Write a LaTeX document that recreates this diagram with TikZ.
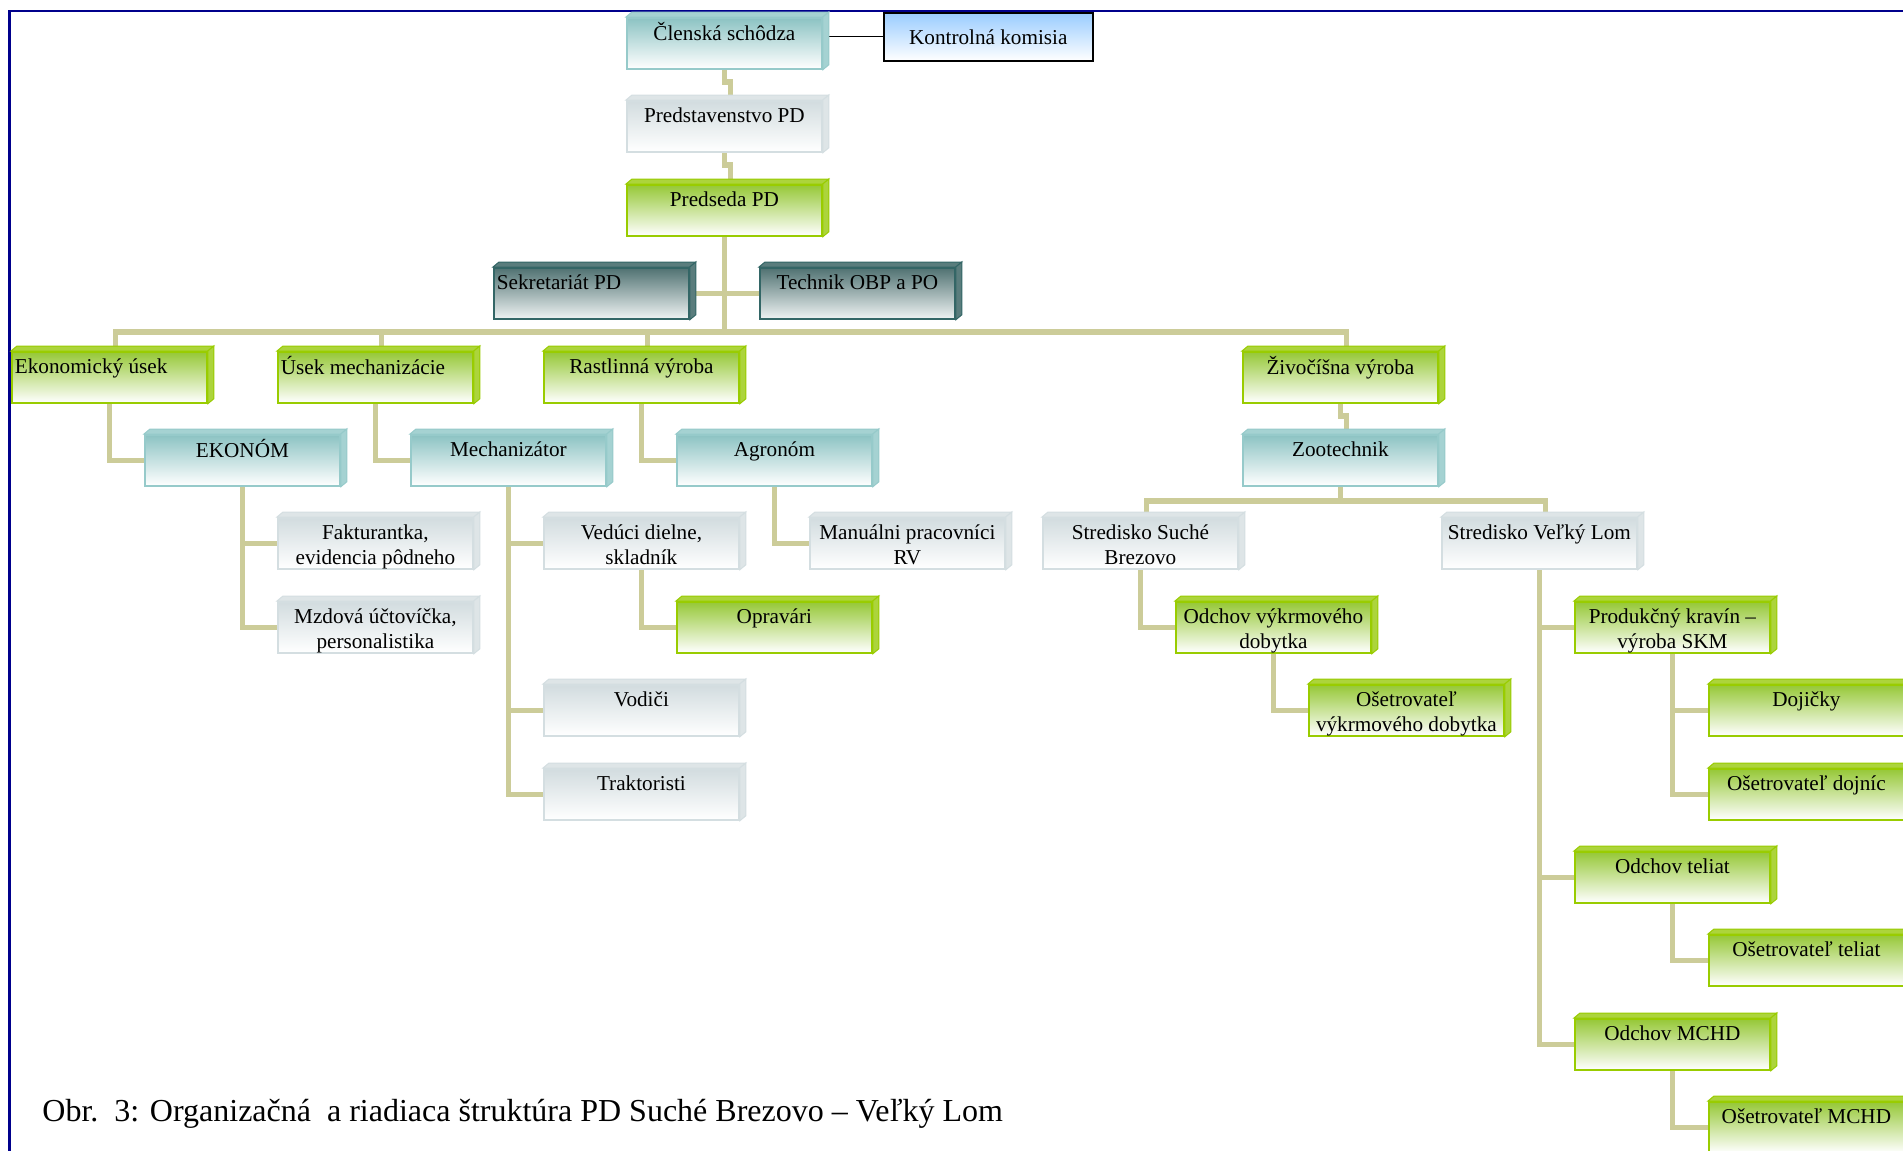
\documentclass[tikz,border=0pt]{standalone}
\usepackage{fontspec}
\setmainfont{Liberation Serif}
\usetikzlibrary{backgrounds}
\definecolor{greenB}{RGB}{153,204,0}
\definecolor{greenT}{RGB}{150,200,55}
\definecolor{greenF}{RGB}{172,212,60}
\definecolor{tealB}{RGB}{150,202,202}
\definecolor{tealT}{RGB}{140,195,195}
\definecolor{tealF}{RGB}{165,210,210}
\definecolor{greyB}{RGB}{212,222,225}
\definecolor{greyT}{RGB}{210,220,223}
\definecolor{greyF}{RGB}{222,229,231}
\definecolor{slateB}{RGB}{51,102,102}
\definecolor{slateT}{RGB}{80,114,114}
\definecolor{slateF}{RGB}{90,125,125}
\definecolor{blueT}{RGB}{153,204,255}
\definecolor{linkC}{RGB}{204,204,153}
\definecolor{frameC}{RGB}{0,0,140}

\newcommand{\boxfont}{\fontsize{10.6}{12.5}\selectfont}
\newcommand{\cell}[1]{\vbox to 25.5pt{\hsize=97.5pt\centering\vskip 2.25pt\leavevmode\strut#1\strut\par\vss}}
\newcommand{\cellL}[1]{\vbox to 25.5pt{\hsize=97.5pt\raggedright\leftskip=1.5pt\vskip 2.25pt\leavevmode\strut#1\strut\par\vss}}

\tikzset{
  unit/.style={rectangle, inner sep=0pt, minimum width=97.5pt, minimum height=25.5pt,
    anchor=north west, line width=0.9pt, font=\boxfont},
  greenbox/.style={unit, draw=greenB, top color=greenT, bottom color=white},
  tealbox/.style={unit, draw=tealB, top color=tealT, bottom color=white},
  greybox/.style={unit, draw=greyB, top color=greyT, bottom color=white},
  slatebox/.style={unit, draw=slateB, top color=slateT, bottom color=white!92!slateB},
  kkbox/.style={rectangle, anchor=north west, minimum width=104.5pt, minimum height=24pt,
    draw=black, line width=0.8pt, top color=blueT, bottom color=white, font=\boxfont},
  link/.style={draw=linkC, line width=2.8pt},
}

\begin{document}
\begin{tikzpicture}[x=0.5pt, y=-0.5pt]
  \useasboundingbox (0,0) rectangle (1903,1151);

  % frame
  \draw[frameC, line width=1.2pt] (9.5,1160) |- (1910,11);

  % top of the chart
  \node[tealbox]  (cs)   at (626,17)  {\cell{Členská schôdza}};
  \node[kkbox]    (kk)   at (883,12)  {Kontrolná komisia};
  \node[greybox]  (ps)   at (626,100) {\cell{Predstavenstvo PD}};
  \node[greenbox] (pd)   at (626,184) {\cell{Predseda PD}};
  \node[slatebox] (sek)  at (493,267) {\cellL{Sekretariát PD}};
  \node[slatebox] (tech) at (759,267) {\cell{Technik OBP a PO}};

  % sections
  \node[greenbox] (eu) at (11,351)   {\cellL{Ekonomický úsek}};
  \node[greenbox] (um) at (277,351)  {\cellL{Úsek mechanizácie}};
  \node[greenbox] (rv) at (543,351)  {\cell{Rastlinná výroba}};
  \node[greenbox] (zv) at (1242,351) {\cell{Živočíšna výroba}};

  \node[tealbox] (ekn) at (144,434)  {\cell{EKONÓM}};
  \node[tealbox] (mch) at (410,434)  {\cell{Mechanizátor}};
  \node[tealbox] (agr) at (676,434)  {\cell{Agronóm}};
  \node[tealbox] (zt)  at (1242,434) {\cell{Zootechnik}};

  \node[greybox] (fak) at (277,517)  {\cell{Fakturantka,\\evidencia pôdneho}};
  \node[greybox] (mzd) at (277,601)  {\cell{Mzdová účtovíčka,\\personalistika}};
  \node[greybox] (vd)  at (543,517)  {\cell{Vedúci dielne,\\skladník}};
  \node[greenbox] (opr) at (676,601) {\cell{Opravári}};
  \node[greybox] (vod) at (543,684)  {\cell{Vodiči}};
  \node[greybox] (tra) at (543,768)  {\cell{Traktoristi}};
  \node[greybox] (mp)  at (809,517)  {\cell{Manuálni pracovníci\\RV}};

  \node[greybox] (ss)  at (1042,517) {\cell{Stredisko Suché\\Brezovo}};
  \node[greybox] (vl)  at (1441,517) {\cell{Stredisko Veľký Lom}};
  \node[greenbox] (ovd) at (1175,601) {\cell{Odchov výkrmového\\dobytka}};
  \node[greenbox] (osv) at (1308,684) {\cell{Ošetrovateľ\\výkrmového dobytka}};
  \node[greenbox] (pk)  at (1574,601) {\cell{Produkčný kravín –\\výroba SKM}};
  \node[greenbox] (doj) at (1708,684) {\cell{Dojičky}};
  \node[greenbox] (osd) at (1708,768) {\cell{Ošetrovateľ dojníc}};
  \node[greenbox] (ot)  at (1574,851) {\cell{Odchov teliat}};
  \node[greenbox] (ost) at (1708,934) {\cell{Ošetrovateľ teliat}};
  \node[greenbox] (om)  at (1574,1018) {\cell{Odchov MCHD}};
  \node[greenbox] (osm) at (1708,1101) {\cell{Ošetrovateľ MCHD}};

  % top and side faces
  \foreach \n/\k in {cs/teal, ps/grey, pd/green, sek/slate, tech/slate, eu/green, um/green,
      rv/green, zv/green, ekn/teal, mch/teal, agr/teal, zt/teal, fak/grey, mzd/grey, vd/grey,
      opr/green, vod/grey, tra/grey, mp/grey, ss/grey, vl/grey, ovd/green, osv/green,
      pk/green, doj/green, osd/green, ot/green, ost/green, om/green, osm/green} {
    \filldraw[fill=\k F, draw=\k B, line width=0.5pt]
      (\n.north west) -- ++(6,-5) -- ([shift={(6,-5)}]\n.north east) -- (\n.north east) -- cycle;
    \filldraw[fill=\k F, draw=\k B, line width=0.5pt]
      (\n.north east) -- ++(6,-5) -- ([shift={(6,-5)}]\n.south east) -- (\n.south east) -- cycle;
  }

  \coordinate (bar) at (0,332);
  \path (zt.south) ++(0,14) coordinate (bar2);

  % connectors
  \begin{scope}[on background layer]
    \draw[black, line width=0.6pt] (kk.west -| cs.east) -- (kk.west);
    \draw[link] (cs.south) -- ++(0,12) -| ([xshift=3pt]ps.north);
    \draw[link] (ps.south) -- ++(0,12) -| ([xshift=3pt]pd.north);
    \draw[link] (pd.south) -- (pd.south |- bar);
    \draw[link] (sek.east) -- (tech.west);
    \draw[link] ([xshift=3pt]eu.north) |- ([xshift=3pt]zv.north |- bar) -- ([xshift=3pt]zv.north);
    \foreach \n in {um, rv}
      \draw[link] ([xshift=3pt]\n.north) -- ([xshift=3pt]\n.north |- bar);
    \draw[link] (eu.south) |- (ekn.west);
    \draw[link] (um.south) |- (mch.west);
    \draw[link] (rv.south) |- (agr.west);
    \draw[link] (zv.south) -- ++(0,12) -| ([xshift=3pt]zt.north);
    \foreach \n in {fak, mzd}
      \draw[link] (ekn.south) |- (\n.west);
    \foreach \n in {vd, vod, tra}
      \draw[link] (mch.south) |- (\n.west);
    \draw[link] (vd.south) |- (opr.west);
    \draw[link] (agr.south) |- (mp.west);
    \draw[link] (zt.south) -- (bar2);
    \draw[link] ([xshift=3pt]ss.north) |- (bar2) -| ([xshift=3pt]vl.north);
    \draw[link] (ss.south) |- (ovd.west);
    \draw[link] (ovd.south) |- (osv.west);
    \foreach \n in {pk, ot, om}
      \draw[link] (vl.south) |- (\n.west);
    \foreach \n in {doj, osd}
      \draw[link] (pk.south) |- (\n.west);
    \draw[link] (ot.south) |- (ost.west);
    \draw[link] (om.south) |- (osm.west);
  \end{scope}

  \node[anchor=base west, inner sep=0pt, font=\fontsize{16}{19}\selectfont] (cap) at (42,1121)
    {Obr.\ \ 3: Organizačná\ \ a riadiaca štruktúra PD Suché Brezovo – Veľký Lom};
\end{tikzpicture}
\end{document}
